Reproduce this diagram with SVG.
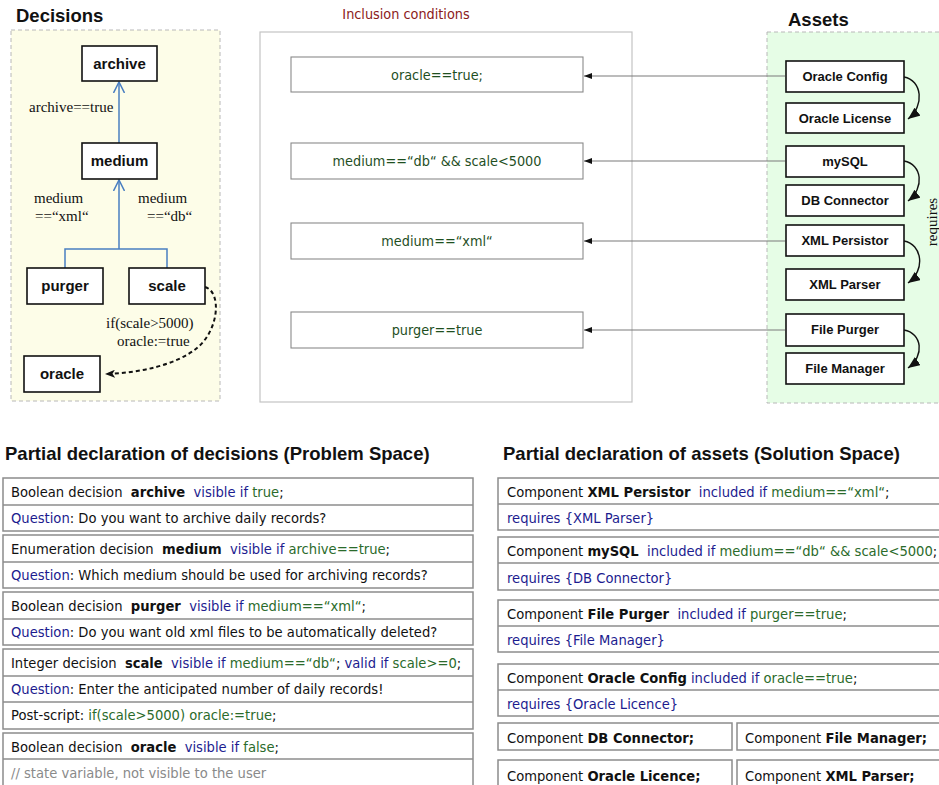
<svg xmlns="http://www.w3.org/2000/svg" width="939" height="785" viewBox="0 0 939 785">
  <defs>
    <style>
      .title { font-family: 'Liberation Sans', Arial, sans-serif; font-weight: bold; font-size: 18.5px; fill: #111; }
      .panelY { fill: #fdfde8; stroke: #b8b8b8; stroke-width: 1; stroke-dasharray: 4 3; }
      .panelG { fill: #e6fde6; stroke: #b8b8b8; stroke-width: 1; stroke-dasharray: 4 3; }
      .panelW { fill: #fff; stroke: #c4c4c4; stroke-width: 1.2; }
      .node rect { fill: #fff; stroke: #111; stroke-width: 1.6; }
      .dtext { font-family: 'Liberation Sans', Arial, sans-serif; font-weight: bold; font-size: 15px; text-anchor: middle; fill: #111; }
      .atext { font-family: 'Liberation Sans', Arial, sans-serif; font-weight: bold; font-size: 13px; text-anchor: middle; fill: #111; }
      .cond rect { fill: #fff; stroke: #8a8a8a; stroke-width: 1.1; }
      .tah { font-family: 'DejaVu Sans Condensed', 'DejaVu Sans', Verdana, sans-serif; font-stretch: condensed; font-size: 14.3px; }
      .ctext { text-anchor: middle; fill: #1f4f1f; }
      .serif { font-family: 'Liberation Serif', 'Times New Roman', serif; font-size: 15px; fill: #111; }
      .tree { fill: none; stroke: #4a7fc1; stroke-width: 1.5; }
      .link { fill: none; stroke: #7a7a7a; stroke-width: 1.2; }
      .req { fill: none; stroke: #111; stroke-width: 1.4; }
      .post { fill: none; stroke: #111; stroke-width: 2; stroke-dasharray: 4 3; }
      .decl rect { fill: #fff; stroke: #8c8c8c; stroke-width: 1.5; }
      .decl line { stroke: #8c8c8c; stroke-width: 1.5; }
      .row { fill: #111; white-space: pre; font-size: 14.6px; }
      .b { font-weight: bold; }
      .kw { fill: #1c1c8f; }
      .ex { fill: #2b6b2b; }
      .cm { fill: #8a8a8a; }
    </style>
    <marker id="openBlue" viewBox="0 0 12 12" refX="11" refY="6" markerWidth="12" markerHeight="12" markerUnits="userSpaceOnUse" orient="auto">
      <path d="M0,0.5 L11,6 L0,11.5" fill="none" stroke="#4a7fc1" stroke-width="1.5"/>
    </marker>
    <marker id="small" viewBox="0 0 8 6" refX="8" refY="3" markerWidth="8" markerHeight="6" markerUnits="userSpaceOnUse" orient="auto">
      <path d="M0,0 L8,3 L0,6 z" fill="#111"/>
    </marker>
    <marker id="tri" viewBox="0 0 12 10" refX="12" refY="5" markerWidth="12" markerHeight="10" markerUnits="userSpaceOnUse" orient="auto">
      <path d="M0,0 L12,5 L0,10 z" fill="#111"/>
    </marker>
    <marker id="dashHead" viewBox="0 0 10 8" refX="10" refY="4" markerWidth="10" markerHeight="8" markerUnits="userSpaceOnUse" orient="auto">
      <path d="M0,0 L10,4 L0,8 L2.5,4 z" fill="#111"/>
    </marker>
  </defs>

  <rect width="939" height="785" fill="#fff"/>

  <!-- Panels -->
  <text class="title" x="16" y="22">Decisions</text>
  <rect class="panelY" x="11" y="30" width="209" height="371"/>

  <text class="tah" x="406" y="19" fill="#8b1a1a" text-anchor="middle">Inclusion conditions</text>
  <rect class="panelW" x="260" y="32" width="372" height="370"/>

  <text class="title" x="788" y="26">Assets</text>
  <rect class="panelG" x="767" y="32" width="180" height="371"/>
  <text class="serif" transform="translate(937,222) rotate(-90)" text-anchor="middle">requires</text>

  <!-- Connectors -->
  <g id="connectors">
    <path class="tree" d="M119,143 V82" marker-end="url(#openBlue)"/>
    <path class="tree" d="M65,268 V249 H167 V268 M119,249 V180" marker-end="url(#openBlue)"/>
    <path class="post" d="M205,287 C222,292 219,330 197,348 C176,365 140,373 105,374" marker-end="url(#dashHead)"/>

    <path class="link" d="M785,76 H584" marker-end="url(#small)"/>
    <path class="link" d="M785,161 H584" marker-end="url(#small)"/>
    <path class="link" d="M785,241 H584" marker-end="url(#small)"/>
    <path class="link" d="M785,330 H584" marker-end="url(#small)"/>

    <path class="req" d="M904,77 C922,80 925,106 908,119" marker-end="url(#tri)"/>
    <path class="req" d="M904,161 C922,164 925,188 908,201" marker-end="url(#tri)"/>
    <path class="req" d="M904,241 C922,244 926,270 908,283" marker-end="url(#tri)"/>
    <path class="req" d="M904,330 C922,333 925,356 908,368" marker-end="url(#tri)"/>
  </g>

  <!-- Connector labels -->
  <text class="serif" x="29" y="112">archive==true</text>
  <text class="serif" x="34" y="203">medium</text>
  <text class="serif" x="35" y="221">==“xml“</text>
  <text class="serif" x="138" y="203">medium</text>
  <text class="serif" x="147" y="221">==“db“</text>
  <text class="serif" x="106" y="328">if(scale&gt;5000)</text>
  <text class="serif" x="117" y="346">oracle:=true</text>

  <!-- Decision nodes -->
  <g id="archive" class="node"><rect x="82" y="46" width="75" height="35"/><text class="dtext" x="119.5" y="69">archive</text></g>
  <g id="medium" class="node"><rect x="82" y="143" width="75" height="36"/><text class="dtext" x="119.5" y="166">medium</text></g>
  <g id="purger" class="node"><rect x="27" y="268" width="76" height="36"/><text class="dtext" x="65" y="291">purger</text></g>
  <g id="scale" class="node"><rect x="129" y="268" width="76" height="36"/><text class="dtext" x="167" y="291">scale</text></g>
  <g id="oracle" class="node"><rect x="24" y="356" width="76" height="36"/><text class="dtext" x="62" y="379">oracle</text></g>

  <!-- Inclusion condition nodes -->
  <g id="cond-oracle" class="cond"><rect x="291" y="57" width="292" height="35"/><text class="tah ctext" x="437" y="80">oracle==true;</text></g>
  <g id="cond-mysql" class="cond"><rect x="291" y="143" width="292" height="36"/><text class="tah ctext" x="437" y="166">medium==“db“ &amp;&amp; scale&lt;5000</text></g>
  <g id="cond-xml" class="cond"><rect x="291" y="223" width="292" height="36"/><text class="tah ctext" x="437" y="246">medium==“xml“</text></g>
  <g id="cond-purger" class="cond"><rect x="291" y="312" width="292" height="36"/><text class="tah ctext" x="437" y="335">purger==true</text></g>

  <!-- Asset nodes -->
  <g id="oracle-config" class="node"><rect x="786" y="61" width="118" height="31"/><text class="atext" x="845" y="81">Oracle Config</text></g>
  <g id="oracle-license" class="node"><rect x="786" y="103" width="118" height="30"/><text class="atext" x="845" y="123">Oracle License</text></g>
  <g id="mysql" class="node"><rect x="786" y="146" width="118" height="31"/><text class="atext" x="845" y="166">mySQL</text></g>
  <g id="db-connector" class="node"><rect x="786" y="185" width="118" height="31"/><text class="atext" x="845" y="205">DB Connector</text></g>
  <g id="xml-persistor" class="node"><rect x="786" y="225" width="118" height="31"/><text class="atext" x="845" y="245">XML Persistor</text></g>
  <g id="xml-parser" class="node"><rect x="786" y="269" width="118" height="31"/><text class="atext" x="845" y="289">XML Parser</text></g>
  <g id="file-purger" class="node"><rect x="786" y="314" width="118" height="32"/><text class="atext" x="845" y="334">File Purger</text></g>
  <g id="file-manager" class="node"><rect x="786" y="353" width="118" height="31"/><text class="atext" x="845" y="373">File Manager</text></g>

  <!-- Problem space declarations -->
  <text class="title" x="5" y="460">Partial declaration of decisions (Problem Space)</text>
  <g id="decl-archive" class="decl">
    <rect x="3" y="478" width="470" height="53"/><line x1="3" y1="505" x2="473" y2="505"/>
    <text class="tah row" x="11" y="497">Boolean decision  <tspan class="b">archive</tspan><tspan class="kw">  visible if </tspan><tspan class="ex">true</tspan>;</text>
    <text class="tah row" x="11" y="523"><tspan class="kw">Question</tspan>: Do you want to archive daily records?</text>
  </g>
  <g id="decl-medium" class="decl">
    <rect x="3" y="535" width="470" height="53"/><line x1="3" y1="562" x2="473" y2="562"/>
    <text class="tah row" x="11" y="554">Enumeration decision  <tspan class="b">medium</tspan><tspan class="kw">  visible if </tspan><tspan class="ex">archive==true</tspan>;</text>
    <text class="tah row" x="11" y="580"><tspan class="kw">Question</tspan>: Which medium should be used for archiving records?</text>
  </g>
  <g id="decl-purger" class="decl">
    <rect x="3" y="592" width="470" height="53"/><line x1="3" y1="619" x2="473" y2="619"/>
    <text class="tah row" x="11" y="611">Boolean decision  <tspan class="b">purger</tspan><tspan class="kw">  visible if </tspan><tspan class="ex">medium==“xml“</tspan>;</text>
    <text class="tah row" x="11" y="637"><tspan class="kw">Question</tspan>: Do you want old xml files to be automatically deleted?</text>
  </g>
  <g id="decl-scale" class="decl">
    <rect x="3" y="649" width="470" height="80"/><line x1="3" y1="676" x2="473" y2="676"/><line x1="3" y1="702" x2="473" y2="702"/>
    <text class="tah row" x="11" y="668">Integer decision  <tspan class="b">scale</tspan><tspan class="kw">  visible if </tspan><tspan class="ex">medium==“db“</tspan>; <tspan class="kw">valid if </tspan><tspan class="ex">scale&gt;=0</tspan>;</text>
    <text class="tah row" x="11" y="694"><tspan class="kw">Question</tspan>: Enter the anticipated number of daily records!</text>
    <text class="tah row" x="11" y="720">Post-script: <tspan class="ex">if(scale&gt;5000) oracle:=true</tspan>;</text>
  </g>
  <g id="decl-oracle" class="decl">
    <rect x="3" y="733" width="470" height="60"/><line x1="3" y1="759" x2="473" y2="759"/>
    <text class="tah row" x="11" y="752">Boolean decision  <tspan class="b">oracle</tspan><tspan class="kw">  visible if </tspan><tspan class="ex">false</tspan>;</text>
    <text class="tah row cm" x="11" y="778">// state variable, not visible to the user</text>
  </g>

  <!-- Solution space declarations -->
  <text class="title" x="503" y="460">Partial declaration of assets (Solution Space)</text>
  <g id="decl-xml-persistor" class="decl">
    <rect x="498" y="478" width="450" height="52"/><line x1="498" y1="504" x2="948" y2="504"/>
    <text class="tah row" x="507" y="497">Component <tspan class="b">XML Persistor</tspan><tspan class="kw">  included if </tspan><tspan class="ex">medium==“xml“</tspan>;</text>
    <text class="tah row kw" x="507" y="523">requires {XML Parser}</text>
  </g>
  <g id="decl-mysql" class="decl">
    <rect x="498" y="537" width="450" height="53"/><line x1="498" y1="563" x2="948" y2="563"/>
    <text class="tah row" x="507" y="556">Component <tspan class="b">mySQL</tspan><tspan class="kw">  included if </tspan><tspan class="ex">medium==“db“ &amp;&amp; scale&lt;5000</tspan>;</text>
    <text class="tah row kw" x="507" y="583">requires {DB Connector}</text>
  </g>
  <g id="decl-file-purger" class="decl">
    <rect x="498" y="600" width="450" height="52"/><line x1="498" y1="626" x2="948" y2="626"/>
    <text class="tah row" x="507" y="619">Component <tspan class="b">File Purger</tspan><tspan class="kw">  included if </tspan><tspan class="ex">purger==true</tspan>;</text>
    <text class="tah row kw" x="507" y="645">requires {File Manager}</text>
  </g>
  <g id="decl-oracle-config" class="decl">
    <rect x="498" y="664" width="450" height="52"/><line x1="498" y1="690" x2="948" y2="690"/>
    <text class="tah row" x="507" y="683">Component <tspan class="b">Oracle Config</tspan><tspan class="kw"> included if </tspan><tspan class="ex">oracle==true</tspan>;</text>
    <text class="tah row kw" x="507" y="709">requires {Oracle Licence}</text>
  </g>
  <g id="decl-db-connector" class="decl">
    <rect x="498" y="723" width="234" height="27"/>
    <text class="tah row" x="507" y="743">Component <tspan class="b">DB Connector;</tspan></text>
  </g>
  <g id="decl-file-manager" class="decl">
    <rect x="737" y="723" width="211" height="27"/>
    <text class="tah row" x="745" y="743">Component <tspan class="b">File Manager;</tspan></text>
  </g>
  <g id="decl-oracle-licence" class="decl">
    <rect x="498" y="760" width="234" height="33"/>
    <text class="tah row" x="507" y="781">Component <tspan class="b">Oracle Licence;</tspan></text>
  </g>
  <g id="decl-xml-parser" class="decl">
    <rect x="737" y="760" width="211" height="33"/>
    <text class="tah row" x="745" y="781">Component <tspan class="b">XML Parser;</tspan></text>
  </g>
</svg>
